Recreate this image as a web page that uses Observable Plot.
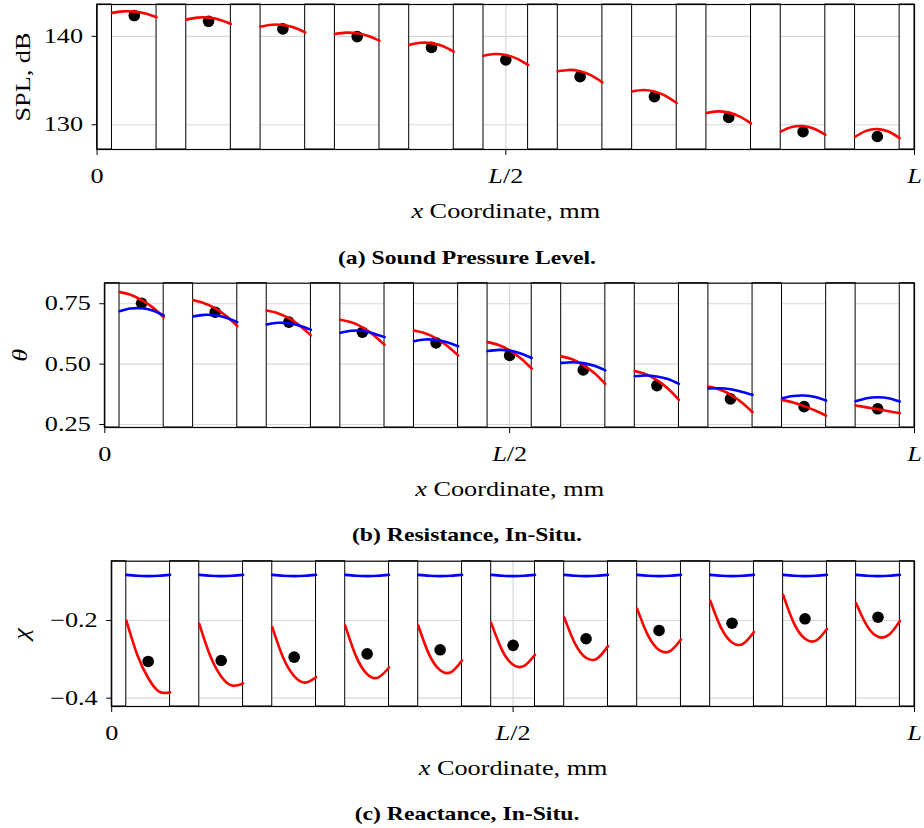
<!DOCTYPE html>
<html><head><meta charset="utf-8">
<script src="https://cdn.jsdelivr.net/npm/d3@7"></script>
<script src="https://cdn.jsdelivr.net/npm/@observablehq/plot@0.6"></script>
<style>
body{margin:0;background:#fff;}
#fig{position:relative;width:924px;height:828px;background:#fff;overflow:hidden;}
.panel{position:absolute;left:0;}
.cap{position:absolute;left:0;width:934px;text-align:center;font:bold 19px "Liberation Serif",serif;line-height:20px;transform:scaleX(1.245);color:#000;white-space:nowrap;}
</style></head><body><div id="fig"></div>
<script>
// ---------- data ----------
const cellCount = 11;          // liner cells along the duct
const openFraction = 0.6;      // open part of each cell pitch
const samplePos = [0, 0.25, 0.5, 0.75, 1]; // positions inside each cell of the model samples
const xTicks = [0, 0.5, 1];
const xTickLabels = ["0", "L/2", "L"];
const xLabel = "x Coordinate, mm";

// (a) Sound pressure level
const splTicks = [130, 140];
const splMeasured = [142.35, 141.70, 140.84, 139.97, 138.75, 137.33, 135.44, 133.17, 130.83, 129.21, 128.67];
const splModel = [
  [142.65, 142.82, 142.79, 142.57, 142.15],
  [141.89, 142.12, 142.12, 141.88, 141.40],
  [141.10, 141.31, 141.28, 140.99, 140.45],
  [140.27, 140.42, 140.34, 140.04, 139.51],
  [139.03, 139.27, 139.23, 138.90, 138.27],
  [137.81, 138.00, 137.89, 137.48, 136.76],
  [136.04, 136.20, 136.05, 135.58, 134.79],
  [133.77, 133.93, 133.76, 133.27, 132.46],
  [131.33, 131.51, 131.37, 130.92, 130.15],
  [129.24, 129.74, 129.84, 129.55, 128.87],
  [128.64, 129.31, 129.51, 129.23, 128.49]
];

// (b) Resistance
const resTicks = [0.25, 0.5, 0.75];
const resMeasured = [0.752, 0.715, 0.674, 0.632, 0.588, 0.536, 0.476, 0.411, 0.356, 0.324, 0.315];
const resModel = [
  [0.798, 0.787, 0.765, 0.735, 0.694],
  [0.764, 0.752, 0.731, 0.699, 0.657],
  [0.722, 0.711, 0.690, 0.659, 0.619],
  [0.684, 0.673, 0.652, 0.621, 0.580],
  [0.639, 0.628, 0.607, 0.576, 0.536],
  [0.591, 0.579, 0.557, 0.524, 0.481],
  [0.532, 0.520, 0.496, 0.463, 0.418],
  [0.471, 0.458, 0.434, 0.399, 0.352],
  [0.407, 0.395, 0.374, 0.342, 0.301],
  [0.352, 0.341, 0.326, 0.308, 0.287],
  [0.329, 0.321, 0.313, 0.305, 0.297]
];
const resInSitu = [
  [0.719, 0.730, 0.731, 0.722, 0.702],
  [0.697, 0.704, 0.702, 0.692, 0.674],
  [0.664, 0.671, 0.669, 0.659, 0.642],
  [0.630, 0.638, 0.638, 0.627, 0.612],
  [0.595, 0.602, 0.600, 0.591, 0.574],
  [0.554, 0.559, 0.556, 0.544, 0.525],
  [0.505, 0.508, 0.504, 0.493, 0.474],
  [0.450, 0.453, 0.449, 0.438, 0.418],
  [0.399, 0.400, 0.396, 0.386, 0.373],
  [0.359, 0.368, 0.370, 0.364, 0.349],
  [0.346, 0.359, 0.363, 0.359, 0.345]
];

// (c) Reactance
const reaTicks = [-0.4, -0.2];
const reaMeasured = [-0.3055, -0.303, -0.2944, -0.286, -0.2755, -0.264, -0.247, -0.2257, -0.207, -0.1956, -0.1915];
const reaModel = [
  [-0.200, -0.288, -0.348, -0.383, -0.385],
  [-0.2085, -0.291, -0.344, -0.3675, -0.362],
  [-0.217, -0.296, -0.343, -0.360, -0.346],
  [-0.213, -0.293, -0.338, -0.347, -0.321],
  [-0.213, -0.288, -0.328, -0.333, -0.303],
  [-0.206, -0.277, -0.314, -0.317, -0.288],
  [-0.192, -0.260, -0.296, -0.298, -0.266],
  [-0.170, -0.239, -0.276, -0.279, -0.249],
  [-0.1485, -0.219, -0.2565, -0.260, -0.2295],
  [-0.134, -0.208, -0.247, -0.252, -0.222],
  [-0.1555, -0.214, -0.242, -0.237, -0.201]
];
const reaInSitu = [
  [-0.0825, -0.0850, -0.0858, -0.0850, -0.0825],
  [-0.0825, -0.0850, -0.0858, -0.0850, -0.0825],
  [-0.0825, -0.0850, -0.0858, -0.0850, -0.0825],
  [-0.0825, -0.0850, -0.0858, -0.0850, -0.0825],
  [-0.0825, -0.0850, -0.0858, -0.0850, -0.0825],
  [-0.0825, -0.0850, -0.0858, -0.0850, -0.0825],
  [-0.0825, -0.0850, -0.0858, -0.0850, -0.0825],
  [-0.0825, -0.0850, -0.0858, -0.0850, -0.0825],
  [-0.0825, -0.0850, -0.0858, -0.0850, -0.0825],
  [-0.0825, -0.0850, -0.0858, -0.0850, -0.0825],
  [-0.0825, -0.0850, -0.0858, -0.0850, -0.0825]
];

const captions = ["(a) Sound Pressure Level.", "(b) Resistance, In-Situ.", "(c) Reactance, In-Situ."];

// ---------- helpers ----------
const wall = (1 - openFraction) / 2;
const cellX = (i, t) => (i + wall + openFraction * t) / cellCount;
const gaps = d3.range(cellCount + 1).map(i => ({
  x1: i === 0 ? 0 : (i - wall) / cellCount,
  x2: i === cellCount ? 1 : (i + wall) / cellCount
}));
const curveRows = series => series.flatMap((vals, i) => vals.map((v, j) => ({cell: i, x: cellX(i, samplePos[j]), y: v})));
const dotRows = vals => vals.map((v, i) => ({cell: i, x: (i + 0.5) / cellCount, y: v}));

const FONT = "'Liberation Serif', serif";
const STRETCH = 1.25;

function panel(cfg) {
  const marks = [
    Plot.ruleY(cfg.yTicks, {stroke: "#d8d8d8", strokeWidth: 1.2}),
    Plot.ruleX(xTicks, {stroke: "#d8d8d8", strokeWidth: 1.2}),
    Plot.rect(gaps, {x1: "x1", x2: "x2", y1: cfg.yDomain[0], y2: cfg.yDomain[1], fill: "white", stroke: "black", strokeWidth: 1}),
    Plot.dot(dotRows(cfg.measured), {x: "x", y: "y", r: 5.8, fill: "black", stroke: "none"}),
    Plot.line(curveRows(cfg.model), {x: "x", y: "y", z: "cell", stroke: "#ff0000", strokeWidth: 2.6, curve: "natural"})
  ];
  if (cfg.insitu) marks.push(Plot.line(curveRows(cfg.insitu), {x: "x", y: "y", z: "cell", stroke: "#0000ff", strokeWidth: 2.6, curve: "natural"}));
  marks.push(
    Plot.frame({stroke: "black", strokeWidth: 1.2}),
    Plot.text([cfg.yLabel], {frameAnchor: "left", dx: cfg.yLabelDx, rotate: -90, textAnchor: "middle", lineAnchor: "middle", text: d => d, fontStyle: cfg.italic ? "italic" : "normal", fontSize: 21}),
    Plot.text([xLabel], {frameAnchor: "bottom", dy: 62, textAnchor: "middle", lineAnchor: "middle", text: d => d, fontSize: 21})
  );
  const svg = Plot.plot({
    width: 924, height: cfg.height,
    marginTop: cfg.marginTop, marginBottom: cfg.marginBottom,
    marginLeft: cfg.marginLeft, marginRight: 10,
    style: {fontFamily: FONT, fontSize: "21px", color: "black", background: "white"},
    x: {domain: [0, 1], ticks: xTicks, tickFormat: d => xTickLabels[xTicks.indexOf(d)], tickSize: 6, tickPadding: 13, label: null},
    y: {domain: cfg.yDomain, ticks: cfg.yTicks, tickFormat: cfg.yFormat, tickSize: 5, tickPadding: 9, label: null},
    marks
  });
  d3.select(svg).selectAll("text").each(function () {
    const s = this.textContent;
    const sel = d3.select(this);
    if (s === "L/2") {
      sel.text(null);
      sel.append("tspan").attr("font-style", "italic").text("L");
      sel.append("tspan").text("/2");
    } else if (s === "L") {
      sel.attr("font-style", "italic");
    } else if (s === xLabel) {
      sel.text(null);
      sel.append("tspan").attr("font-style", "italic").text("x");
      sel.append("tspan").text(" Coordinate, mm");
    }
    this.setAttribute("transform", (this.getAttribute("transform") || "") + ` scale(${STRETCH},1)`);
  });
  const wrap = document.createElement("div");
  wrap.className = "panel";
  wrap.style.top = cfg.top + "px";
  wrap.appendChild(svg);
  document.getElementById("fig").appendChild(wrap);
  const cap = document.createElement("div");
  cap.className = "cap";
  cap.style.top = cfg.capTop + "px";
  cap.textContent = cfg.caption;
  document.getElementById("fig").appendChild(cap);
}

panel({top: 0, height: 225, marginTop: 4, marginBottom: 76, marginLeft: 96.6,
  yDomain: [127.2, 143.6], yTicks: splTicks, yFormat: d3.format("d"),
  yLabel: "SPL, dB", italic: false, yLabelDx: -73.6,
  measured: splMeasured, model: splModel, insitu: null, caption: captions[0], capTop: 248});
panel({top: 278, height: 225, marginTop: 4.7, marginBottom: 76, marginLeft: 104.3,
  yDomain: [0.2376, 0.835], yTicks: resTicks, yFormat: d3.format(".2f"),
  yLabel: "θ", italic: true, yLabelDx: -85,
  measured: resMeasured, model: resModel, insitu: resInSitu, caption: captions[1], capTop: 525});
panel({top: 556, height: 225, marginTop: 4.7, marginBottom: 75, marginLeft: 111.2,
  yDomain: [-0.4214, -0.0474], yTicks: reaTicks, yFormat: d3.format(".1f"),
  yLabel: "χ", italic: true, yLabelDx: -90.5,
  measured: reaMeasured, model: reaModel, insitu: reaInSitu, caption: captions[2], capTop: 804});
</script></body></html>
